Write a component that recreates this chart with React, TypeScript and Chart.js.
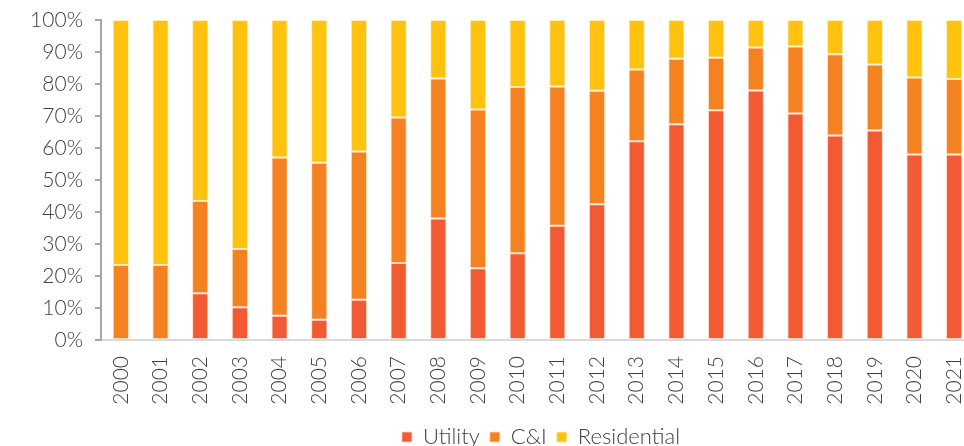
import React, { useEffect, useRef } from "react";
import { Chart, registerables } from "chart.js";

Chart.register(...registerables);

const years = ["2000","2001","2002","2003","2004","2005","2006","2007","2008","2009","2010","2011","2012","2013","2014","2015","2016","2017","2018","2019","2020","2021"];
const utility = [0, 0, 14.6, 10.2, 7.6, 6.3, 12.6, 24.1, 38.0, 22.4, 27.1, 35.7, 42.4, 62.1, 67.4, 71.8, 78.0, 70.8, 63.9, 65.5, 58.0, 58.0];
const cniTop = [23.4, 23.4, 43.4, 28.4, 57.0, 55.4, 58.9, 69.5, 81.7, 72.0, 79.1, 79.2, 77.9, 84.5, 87.9, 88.2, 91.4, 91.7, 89.3, 86.1, 82.0, 81.6];
const cni = cniTop.map((t, i) => +(t - utility[i]).toFixed(1));
const residential = cniTop.map((t) => +(100 - t).toFixed(1));

const FONT = "Lato, 'Open Sans', sans-serif";
const TEXT = "#404040";
const W = 974;
const H = 446;
const PLOT_TOP = 20;
const PLOT_BOTTOM = 340;
const LEGEND_CENTER_X = 541;
const LEGEND_CENTER_Y = 437;
const LEGEND_PAD = 10;
const LEGEND_FONT = 22;

const legendShift = {
  id: "legendShift",
  afterLayout(chart: any) {
    const l = chart.legend;
    if (!l) return;
    const dx = LEGEND_CENTER_X - (l.left + l.right) / 2;
    l.left += dx;
    l.right += dx;
    const newTop = LEGEND_CENTER_Y - LEGEND_FONT / 2 - LEGEND_PAD;
    const dy = newTop - l.top;
    l.top += dy;
    l.bottom += dy;
  },
};

export default function App() {
  const ref = useRef<HTMLCanvasElement>(null);
  useEffect(() => {
    const ctx = ref.current!;
    const chart = new Chart(ctx, {
      type: "bar",
      plugins: [legendShift],
      data: {
        labels: years,
        datasets: [
          { label: "Utility", data: utility, backgroundColor: "#F15A32", borderColor: "rgba(255,210,190,0.8)", borderWidth: 1, borderSkipped: false },
          { label: "C&I", data: cni, backgroundColor: "#F58220", borderColor: "rgba(255,215,180,0.8)", borderWidth: 1, borderSkipped: false },
          { label: "Residential", data: residential, backgroundColor: "#FFC20F", borderColor: "rgba(255,235,170,0.8)", borderWidth: 1, borderSkipped: false },
        ],
      },
      options: {
        animation: false,
        responsive: true,
        maintainAspectRatio: false,
        datasets: { bar: { barPercentage: 0.41, categoryPercentage: 1 } },
        layout: { padding: { top: PLOT_TOP, bottom: 0, left: 0, right: 0 } },
        plugins: {
          tooltip: { enabled: false },
          legend: {
            position: "bottom",
            labels: {
              font: { family: FONT, size: LEGEND_FONT, weight: 300 },
              color: TEXT,
              boxWidth: 10,
              boxHeight: 10,
              padding: LEGEND_PAD,
            },
          },
        },
        scales: {
          x: {
            stacked: true,
            grid: { display: false },
            border: { display: true, color: "#d9d9d9", width: 2 },
            ticks: {
              minRotation: 90,
              maxRotation: 90,
              font: { family: FONT, size: 21, weight: 300 },
              color: TEXT,
              padding: 8,
            },
            afterFit: (s: any) => {
              const lh = s.chart.legend ? s.chart.legend.height : 53;
              s.height = H - PLOT_BOTTOM - lh;
              s.paddingRight = 0;
              s.paddingLeft = 0;
            },
          },
          y: {
            stacked: true,
            min: 0,
            max: 100,
            grid: { drawOnChartArea: false, drawTicks: true, tickLength: 6, color: "#a6a6a6", lineWidth: 2 },
            border: { display: true, color: "#a6a6a6", width: 2 },
            ticks: {
              stepSize: 10,
              callback: (v: any) => v + "%",
              font: { family: FONT, size: 21, weight: 300 },
              color: TEXT,
              padding: 12,
            },
            afterFit: (s: any) => {
              s.width = 101;
              s.paddingTop = 0;
              s.paddingBottom = 0;
            },
          },
        },
      },
    });
    return () => chart.destroy();
  }, []);
  return (
    <div style={{ position: "fixed", left: 0, top: 0, width: 964, height: H, overflow: "hidden", background: "#fff" }}>
      <div style={{ position: "relative", width: W, height: H }}>
        <canvas ref={ref} />
      </div>
    </div>
  );
}
